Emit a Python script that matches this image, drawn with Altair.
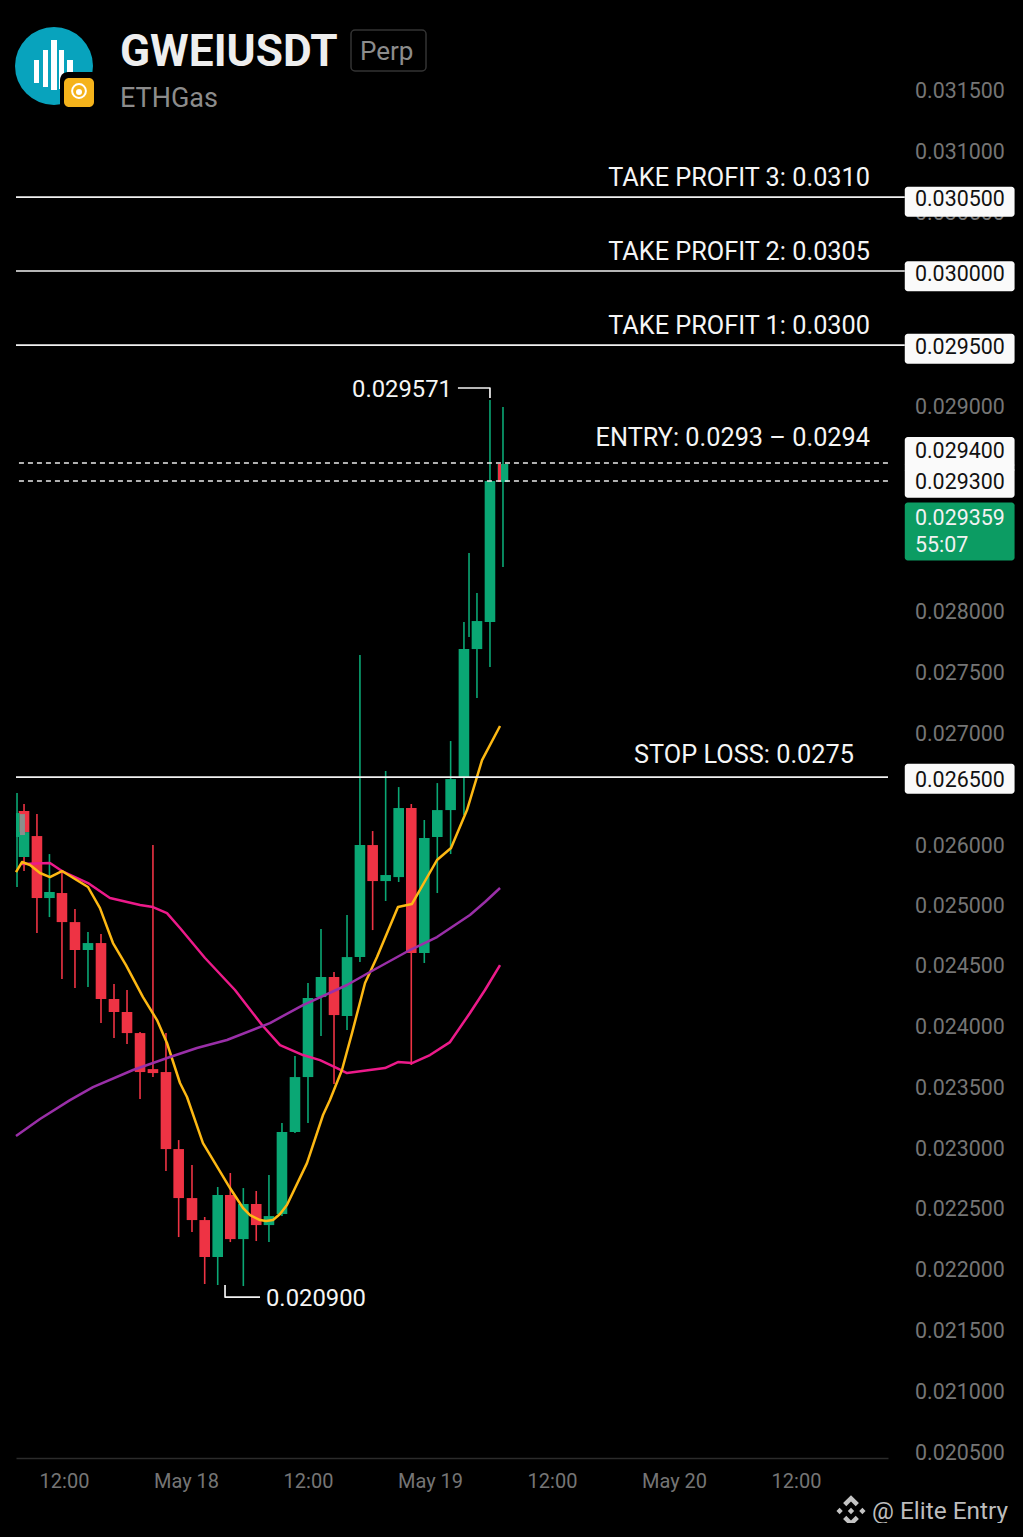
import json
import altair as alt
import pandas as pd

# ---- candles: hour offset from 17 May 12:00, prices in 1e-6 USDT
hours = [-4.62, -3.93, -3.93, -2.66, -1.43, -0.2, 1.08, 2.36, 3.64, 4.92, 6.2, 7.48, 8.75, 10.03, 11.28, 12.59,
         13.84, 15.12, 16.36, 17.64, 18.91, 20.16, 21.44, 22.72, 24.0, 25.28, 26.56, 27.84, 29.11, 30.36, 31.64,
         32.92, 34.16, 35.44, 36.72, 38.03, 39.34, 39.84, 40.62, 41.9, 43.18]
opens = [25400, 25084, 25534, 25289, 24683, 24732, 24448, 24175, 24243, 23696, 23569, 23363, 23011, 22982, 22229, 21750,
         21535, 21174, 21780, 21349, 21692, 21486, 21594, 22396, 22933, 23715, 23911, 23530, 24106, 25201, 24849,
         24888, 25563, 24145, 25280, 25543, 25856, 27300, 27117, 27381, 28750]
closes = [25400, 25328, 25328, 24683, 24742, 24448, 24175, 24243, 23696, 23569, 23363, 22982, 22972, 22229, 21750, 21535,
          21174, 21780, 21349, 21692, 21486, 21574, 22396, 22933, 23706, 23911, 23539, 24106, 25201, 24849, 24908,
          25563, 24145, 25270, 25543, 25846, 27117, 27300, 27391, 28760, 28926]
highs = [25710, 25328, 25602, 25504, 25113, 24937, 24576, 24351, 24331, 23842, 23784, 23373, 25201, 23363, 22317, 22073,
         21565, 21858, 21995, 21848, 21819, 21975, 22484, 23138, 23852, 24380, 23960, 24517, 27059, 25338, 25925,
         25768, 25602, 25446, 25807, 26218, 27381, 28056, 27665, 29552, 29483]
lows = [24791, 25084, 24947, 24341, 24497, 23891, 23803, 23813, 23461, 23314, 23256, 22718, 22933, 22014, 21369, 21418,
        20910, 20900, 21320, 20890, 21330, 21320, 21574, 22386, 22484, 23334, 22865, 23393, 24057, 24370, 24654,
        24840, 23051, 24048, 24732, 25113, 25495, 27235, 26638, 26941, 27919]
directions = ["up", "up", "down", "down", "up", "down", "down", "up", "down", "down", "down", "down", "down", "down", "down", "down",
              "down", "up", "down", "up", "down", "up", "up", "up", "up", "up", "down", "up", "up", "down", "up",
              "up", "down", "up", "up", "up", "up", "up", "up", "up", "up"]

# narrow slivers of candle body seen at the picture's edges
sliver_x0 = [-4.72, -4.33, 42.69]
sliver_x1 = [-4.36, -3.84, 42.99]
sliver_top = [25514, 25504, 28926]
sliver_bot = [25280, 25299, 28750]
sliver_col = ["#0aa774", "#8a8f8c", "#ee3344"]

# ---- moving averages
ma_y_h = [-4.72, -4.13, -3.34, -2.36, -1.38, -0.2, 2.36, 3.54, 4.82, 6.1, 7.77, 9.15, 10.13, 11.41, 12.1, 13.67, 16.33, 17.61, 18.3,
          19.28, 19.87, 20.56, 21.25, 21.93, 23.9, 25.48, 26.16, 27.34, 28.33, 29.61, 30.79, 32.85, 34.23, 36.69, 38.07, 39.64, 41.12, 42.89]
ma_y_v = [24937, 25035, 25006, 24928, 24888, 24947, 24791, 24585, 24243, 24028, 23715, 23490, 23266, 22875, 22738, 22288, 21848, 21653, 21584,
          21535, 21525, 21535, 21594, 21682, 22092, 22562, 22708, 23002, 23363, 23852, 24106, 24595, 24625, 25055, 25172, 25543, 26032, 26365]
ma_p_h = [-4.13, -1.38, -0.2, 2.36, 4.52, 7.48, 8.75, 10.13, 11.41, 13.87, 16.82, 19.48, 21.25, 23.51, 25.18, 26.85, 27.84,
          31.57, 32.85, 34.23, 36.0, 37.97, 39.93, 41.41, 42.89]
ma_p_v = [25015, 25025, 24947, 24830, 24683, 24615, 24595, 24536, 24390, 24097, 23784, 23442, 23246, 23148, 23099, 23021, 22972,
          23021, 23080, 23070, 23148, 23275, 23559, 23784, 24028]
ma_v_h = [-4.72, -2.36, 0.59, 2.85, 6.79, 10.43, 13.08, 16.03, 20.26, 23.51, 27.84, 30.1, 34.03, 36.69, 39.93, 41.41, 42.89]
ma_v_v = [22356, 22523, 22708, 22835, 23002, 23129, 23217, 23295, 23461, 23637, 23833, 23960, 24175, 24302, 24517, 24644, 24781]

# ---- price levels
level_vals = [31536, 30813, 30089, 25866]
level_x0 = [-4.72, -4.72, -4.72, -4.72]
level_x1 = [82.7, 82.7, 82.7, 81.05]
dash_vals = [28936, 28760]
note_text = ["TAKE PROFIT 3: 0.0310", "TAKE PROFIT 2: 0.0305", "TAKE PROFIT 1: 0.0300", "ENTRY: 0.0293 – 0.0294", "STOP LOSS: 0.0275"]
note_vals = [31732, 31008, 30285, 29190, 26091]
note_x = [79.28, 79.28, 79.28, 79.28, 77.7]
box_text = ["0.030500", "0.030000", "0.029500", "0.029400", "0.029300", "0.026500"]
box_vals = [31526, 30793, 30079, 29063, 28760, 25846]
box_join = [28911]
live_text = ["0.029359", "55:07"]
live_vals = [28408, 28144]
live_box = [28281]
peak_line_h = [38.75, 41.9, 41.9]
peak_line_v = [29669, 29669, 29571]
trough_line_h = [15.84, 15.84, 19.28]
trough_line_v = [20900, 20782, 20782]
extreme_text = ["0.029571", "0.020900"]
extreme_h = [38.16, 19.87]
extreme_v = [29669, 20782]

# ---- axes
tick_prices = [0.0315, 0.031, 0.0305, 0.029, 0.028, 0.0275, 0.027, 0.026, 0.025, 0.0245, 0.024, 0.0235, 0.023, 0.0225, 0.022, 0.0215, 0.021, 0.0205]
tick_rows = [82, 143, 204, 398, 603, 664, 725, 837, 897, 957, 1018, 1079, 1140, 1200, 1261, 1322, 1383, 1444]
x_ticks = [0, 12, 24, 36, 48, 60, 72]
x_labels = ["12:00", "May 18", "12:00", "May 19", "12:00", "May 20", "12:00"]

FONT = "Roboto"
GREY = "#757575"
GREEN, RED = "#0aa774", "#ee3344"
U = 1e-6
X = alt.Scale(domain=[-4.72, 81.05], nice=False, zero=False)
Y = alt.Scale(domain=[19209 * U, 33384 * U], nice=False, zero=False)
X_AXIS = alt.Axis(values=x_ticks, labelExpr=json.dumps(x_labels) + "[datum.value/12]", grid=False, ticks=False,
                  domainColor="#2b2b2b", domainWidth=1.5, labelColor=GREY, labelFontSize=20, labelFont=FONT,
                  labelPadding=13, labelOverlap=False, labelFlush=False, labelBound=False, title=None)

def xq(f): return alt.X(f, type="quantitative", scale=X, axis=X_AXIS)
def yq(f): return alt.Y(f, type="quantitative", scale=Y, axis=None)

candles = pd.DataFrame({"h": hours, "o": [v * U for v in opens], "c": [v * U for v in closes],
                        "hi": [v * U for v in highs], "lo": [v * U for v in lows], "d": directions})
col = alt.Color("d:N", scale=alt.Scale(domain=["up", "down"], range=[GREEN, RED]), legend=None)

axis_layer = alt.Chart(pd.DataFrame({"p": tick_prices})).mark_point(opacity=0).encode(
    x=alt.value(0),
    y=alt.Y("p:Q", scale=alt.Scale(domain=tick_prices, range=tick_rows, nice=False, zero=False),
            axis=alt.Axis(orient="right", values=tick_prices, format=".6f", domain=False, ticks=False, grid=False,
                          labelPadding=26.5, labelAlign="left", labelColor=GREY, labelFontSize=21.4, labelFont=FONT,
                          labelOffset=1, labelOverlap=False, labelFlush=False, labelBound=False, title=None)))

wicks = alt.Chart(candles).mark_rule(strokeWidth=1.6).encode(x=xq("h"), y=yq("lo"), y2="hi", color=col)
bodies = alt.Chart(candles).mark_rule(strokeWidth=10.6).encode(x=xq("h"), y=yq("o"), y2="c", color=col)
slivers = alt.Chart(pd.DataFrame({"a": sliver_x0, "b": sliver_x1, "t": [v * U for v in sliver_top], "u": [v * U for v in sliver_bot], "k": sliver_col})).mark_rect().encode(
    x=xq("a"), x2="b", y=yq("t"), y2="u", color=alt.Color("k:N", scale=None))

def line(hs, vs, color, w=2.5):
    return alt.Chart(pd.DataFrame({"h": hs, "v": [v * U for v in vs], "i": list(range(len(hs)))})).mark_line(
        color=color, strokeWidth=w, strokeJoin="round").encode(x=xq("h"), y=yq("v"), order="i:Q")

levels = alt.Chart(pd.DataFrame({"a": level_x0, "b": level_x1, "v": [v * U for v in level_vals]})).mark_rule(color="#f2f2f2", strokeWidth=1.7).encode(
    x=xq("a"), x2="b", y=yq("v"))
dashes = alt.Chart(pd.DataFrame({"a": [-4.43] * 2, "b": [81.05] * 2, "v": [v * U for v in dash_vals]})).mark_rule(color="#ececec", strokeWidth=1.7, strokeDash=[5, 4]).encode(
    x=xq("a"), x2="b", y=yq("v"))

def label_layer(h, vals, texts, color, size, align="left", dy=1.5):
    return alt.Chart(pd.DataFrame({"h": h, "v": [v * U for v in vals], "t": texts})).mark_text(
        align=align, baseline="middle", color=color, fontSize=size, font=FONT, dy=dy).encode(x=xq("h"), y=yq("v"), text="t:N")

notes = label_layer(note_x, note_vals, note_text, "#f5f5f5", 25.3, "right", 1)
boxes = alt.Chart(pd.DataFrame({"a": [82.7] * 6, "b": [93.5] * 6, "v": [v * U for v in box_vals]})).mark_bar(size=30, cornerRadius=3, color="#fafafa").encode(
    x=xq("a"), x2="b", y=yq("v"))
join = alt.Chart(pd.DataFrame({"a": [82.7], "b": [93.5], "v": [v * U for v in box_join]})).mark_bar(size=6, color="#fafafa").encode(
    x=xq("a"), x2="b", y=yq("v"))
box_labels = label_layer([83.7] * 6, box_vals, box_text, "#111111", 21.4)
live = alt.Chart(pd.DataFrame({"a": [82.7], "b": [93.5], "v": [v * U for v in live_box]})).mark_bar(size=58, cornerRadius=3, color="#0c9c63").encode(
    x=xq("a"), x2="b", y=yq("v"))
live_labels = label_layer([83.7] * 2, live_vals, live_text, "#f2f2f2", 21.4)
extremes_a = label_layer(extreme_h[:1], extreme_v[:1], extreme_text[:1], "#f5f5f5", 23.8, "right")
extremes_b = label_layer(extreme_h[1:], extreme_v[1:], extreme_text[1:], "#f5f5f5", 23.8, "left")

# ---- header, drawn in page pixels
dummy = pd.DataFrame({"a": [0]})
def px(v): return alt.value(v - 16)
def py(v): return alt.value(v - 8)
def rect(x0, x1, y0, y1, color, **kw):
    return alt.Chart(dummy).mark_rect(color=color, **kw).encode(x=px(x0), x2=px(x1), y=py(y0), y2=py(y1))
def text(x, y, s, color, size, **kw):
    return alt.Chart(pd.DataFrame({"t": [s]})).mark_text(align="left", baseline="middle", color=color, fontSize=size, font=FONT, **kw).encode(
        x=px(x), y=py(y), text="t:N")

header = [
    alt.Chart(dummy).mark_circle(color="#08a3bd", size=6084, opacity=1).encode(x=px(54), y=py(66)),
    rect(34, 39, 60, 83, "#ffffff"), rect(43, 48, 50, 87, "#ffffff"), rect(51, 57, 40, 90, "#ffffff"),
    rect(59, 64, 50, 89, "#ffffff"), rect(67, 73, 60, 77, "#ffffff"),
    rect(60, 100, 72, 112, "#000000", cornerRadius=8),
    rect(64, 94, 78, 107, "#f5b31b", cornerRadius=5),
    alt.Chart(dummy).mark_circle(color="#f5b31b", size=190, opacity=1, stroke="#ffffff", strokeWidth=2).encode(x=px(79), y=py(91)),
    alt.Chart(dummy).mark_circle(color="#ffffff", size=36, opacity=1).encode(x=px(79), y=py(92)),
    text(120, 52.5, "GWEIUSDT", "#eeeeee", 44.2, fontWeight="bold"),
    rect(351, 426, 30, 71, "#000000", cornerRadius=4, stroke="#333333", strokeWidth=1.5),
    text(360, 52, "Perp", "#8c8c8c", 26),
    text(120, 98.5, "ETHGas", "#8c8c8c", 27),
]
BINANCE = ("M0 -1L.5 -.5L.3 -.3L0 -.6L-.3 -.3L-.5 -.5Z M0 1L.5 .5L.3 .3L0 .6L-.3 .3L-.5 .5Z "
           "M0 -.2L.2 0L0 .2L-.2 0Z M-.72 -.2L-.52 0L-.72 .2L-.92 0Z M.72 -.2L.92 0L.72 .2L.52 0Z")
footer = [
    alt.Chart(dummy).mark_point(shape=BINANCE, size=1000, filled=True, color="#c4c4c4", opacity=1).encode(x=px(851), y=py(1511)),
    text(872, 1512, "@ Elite Entry", "#bdbdbd", 24.4),
]

chart = alt.layer(
    axis_layer, wicks, bodies, slivers,
    line(ma_p_h, ma_p_v, "#ec1a8a"), line(ma_y_h, ma_y_v, "#fdb813"), line(ma_v_h, ma_v_v, "#9a2fa8"),
    levels, dashes, notes, boxes, join, box_labels, live, live_labels,
    line(peak_line_h, peak_line_v, "#f2f2f2", 1.7), line(trough_line_h, trough_line_v, "#f2f2f2", 1.7),
    extremes_a, extremes_b, *header, *footer,
).resolve_scale(y="independent").properties(
    width=872, height=1450, background="#000000",
    padding={"left": 8, "top": 0, "right": 127, "bottom": 65},
    autosize=alt.AutoSizeParams(type="none"),
).configure_view(stroke=None)

chart.save("out.html", embed_options={"renderer": "svg", "actions": False,
                                      "defaultStyle": "html,body{background:#000000}"})
